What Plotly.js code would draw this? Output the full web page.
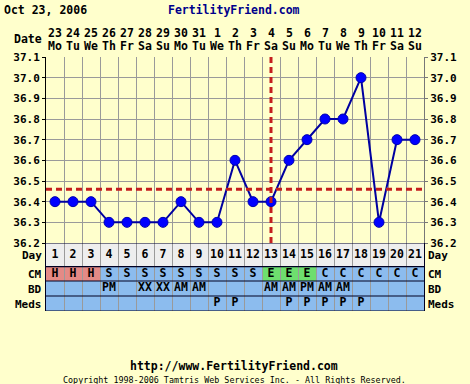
<!DOCTYPE html>
<html>
<head>
<meta charset="utf-8">
<script src="https://cdn.plot.ly/plotly-3.0.1.min.js"></script>
<style>html,body{margin:0;padding:0;background:#FFFFCC;}#chart{width:470px;height:384px;}</style>
</head>
<body>
<div id="chart"></div>
<script>
// ---- data ----
const chartDate = 'Oct 23, 2006';
const siteName = 'FertilityFriend.com';
const footerUrl = 'http://www.FertilityFriend.com';
const copyright = 'Copyright 1998-2006 Tamtris Web Services Inc. - All Rights Reserved.';
const days = [1,2,3,4,5,6,7,8,9,10,11,12,13,14,15,16,17,18,19,20,21];
const dateNums = ['23','24','25','26','27','28','29','30','31','1','2','3','4','5','6','7','8','9','10','11','12'];
const weekdays = ['Mo','Tu','We','Th','Fr','Sa','Su','Mo','Tu','We','Th','Fr','Sa','Su','Mo','Tu','We','Th','Fr','Sa','Su'];
const temps = [36.4,36.4,36.4,36.3,36.3,36.3,36.3,36.4,36.3,36.3,36.6,36.4,36.4,36.6,36.7,36.8,36.8,37.0,36.3,36.7,36.7];
const cm = ['H','H','H','S','S','S','S','S','S','S','S','S','E','E','E','C','C','C','C','C','C'];
const bd = ['','','','PM','','XX','XX','AM','AM','','','','AM','AM','PM','AM','AM','','','',''];
const meds = ['','','','','','','','','','P','P','','','P','P','P','P','P','','',''];
const coverline = 36.46;
const ovulationDay = 13;
const tempTicks = [36.2,36.3,36.4,36.5,36.6,36.7,36.8,36.9,37.0,37.1];
const rowNames = ['Day','CM','BD','Meds'];

// ---- layout constants ----
const W = 470, H = 384;
const L = 46, R = 46, T = 57, B = 73;
const plotH = H - T - B; // 254
const tableH = 68;
const split = tableH / plotH;
// table rows in y2 units (pixels from table bottom)
const rowBands = {Day:[44.3,68], CM:[30,44.3], BD:[15,30], Meds:[0,15]};
const FONT = 'DejaVu Sans Mono';
const bold = {family: FONT, size: 11.5, color: '#000000', weight: 'bold'};
const boldSm = {family: FONT, size: 11, color: '#000000', weight: 'bold'};
const px = x => (x - L) / (W - L - R);
const py = y => (H - B - y) / plotH;

const traces = [];
traces.push({
  x: days, y: temps, xaxis: 'x', yaxis: 'y', mode: 'lines+markers',
  line: {color: '#0000A0', width: 2},
  marker: {color: '#0000FF', size: 10, line: {color: '#0000B0', width: 1}},
  hoverinfo: 'skip', showlegend: false, cliponaxis: false
});
// invisible trace for right-side temperature axis
traces.push({x: days, y: temps, xaxis: 'x', yaxis: 'y3', mode: 'markers',
  marker: {opacity: 0}, hoverinfo: 'skip', showlegend: false});

const mid = r => (rowBands[r][0] + rowBands[r][1]) / 2;
function textRow(vals, row) {
  traces.push({x: days, y: days.map(() => mid(row)), xaxis: 'x', yaxis: 'y2',
    mode: 'text', text: vals, textposition: 'middle center',
    textfont: bold, hoverinfo: 'skip', showlegend: false, cliponaxis: false});
}
textRow(days.map(String), 'Day');
textRow(cm, 'CM');
textRow(bd, 'BD');
textRow(meds, 'Meds');

const shapes = [];
// cell fills
days.forEach((d, i) => {
  const cmColor = cm[i] === 'H' ? '#E48A86' : (cm[i] === 'E' ? '#6EDE6E' : '#8CBCEE');
  const fills = {Day: '#EEEEEE', CM: cmColor, BD: '#8CBCEE', Meds: '#8CBCEE'};
  rowNames.forEach(r => {
    shapes.push({type: 'rect', xref: 'x', yref: 'y2', layer: 'below',
      x0: d - 0.5, x1: d + 0.5, y0: rowBands[r][0], y1: rowBands[r][1],
      fillcolor: fills[r], line: {width: 0}});
  });
});
// row separators
[0, 15, 30, 44.3, 68].forEach(v => {
  shapes.push({type: 'line', xref: 'x', yref: 'y2', layer: 'above',
    x0: 0.5, x1: 21.5, y0: v, y1: v, line: {color: '#000022', width: 1.2}});
});
// coverline and ovulation line
shapes.push({type: 'line', xref: 'x', yref: 'y', layer: 'above',
  x0: 0.5, x1: 21.5, y0: coverline, y1: coverline,
  line: {color: '#C41E1E', width: 3, dash: '6px,4px'}});
shapes.push({type: 'line', xref: 'x', yref: 'y', layer: 'above',
  x0: ovulationDay, x1: ovulationDay, y0: 36.2, y1: 37.1,
  line: {color: '#C41E1E', width: 3, dash: '6px,4px'}});

const annotations = [];
const ann = (text, x, y, xanchor, font) => annotations.push({text, x: px(x), y: py(y),
  xref: 'paper', yref: 'paper', xanchor, yanchor: 'middle', showarrow: false, font});
ann(chartDate, 2, 10, 'left', bold);
ann(siteName, 234, 10, 'center', Object.assign({}, bold, {color: '#00008B'}));
ann('Date', 44, 39, 'right', bold);
days.forEach((d, i) => {
  annotations.push({text: dateNums[i], x: d, y: py(33), xref: 'x', yref: 'paper',
    xanchor: 'center', yanchor: 'middle', showarrow: false, font: bold});
  annotations.push({text: weekdays[i], x: d, y: py(46), xref: 'x', yref: 'paper',
    xanchor: 'center', yanchor: 'middle', showarrow: false, font: bold});
});
const rowY = {Day: 256, CM: 274, BD: 289, Meds: 304};
rowNames.forEach(r => {
  ann(r, 44, rowY[r], 'right', boldSm);
  ann(r, 426, rowY[r], 'left', boldSm);
});
ann(footerUrl, 234, 366, 'center', Object.assign({}, bold, {size: 11.5}));
ann(copyright, 234, 380, 'center', {family: FONT, size: 8.4, color: '#000000'});

const tempAxis = {
  domain: [split, 1], range: [36.2, 37.1], tickvals: tempTicks,
  ticktext: tempTicks.map(v => v.toFixed(1)), tickfont: boldSm,
  showgrid: true, gridcolor: '#9A9A9A', gridwidth: 1, zeroline: false,
  ticks: 'outside', ticklen: 3, tickcolor: '#000000', fixedrange: true
};

const layout = {
  width: W, height: H, margin: {l: L, r: R, t: T, b: B},
  paper_bgcolor: '#FFFFCC', plot_bgcolor: '#FFFFCC',
  showlegend: false, hovermode: false,
  xaxis: {range: [0.5, 21.5], tickvals: days.map(d => d - 0.5).concat([21.5]),
    showticklabels: false, ticks: '', showgrid: true, gridcolor: '#9A9A9A',
    zeroline: false, showline: false, fixedrange: true},
  yaxis: Object.assign({}, tempAxis, {side: 'left', showline: true, linecolor: '#000000', linewidth: 1}),
  yaxis3: Object.assign({}, tempAxis, {side: 'right', overlaying: 'y', showgrid: false,
    showline: true, linecolor: '#777777', linewidth: 1, tickcolor: '#777777'}),
  yaxis2: {domain: [0, split], range: [0, tableH], showgrid: false, zeroline: false,
    showticklabels: false, showline: true, mirror: true, linecolor: '#000022', linewidth: 1.2,
    ticks: '', fixedrange: true},
  shapes, annotations
};

Plotly.newPlot('chart', traces, layout, {staticPlot: true, displayModeBar: false});
</script>
</body>
</html>
